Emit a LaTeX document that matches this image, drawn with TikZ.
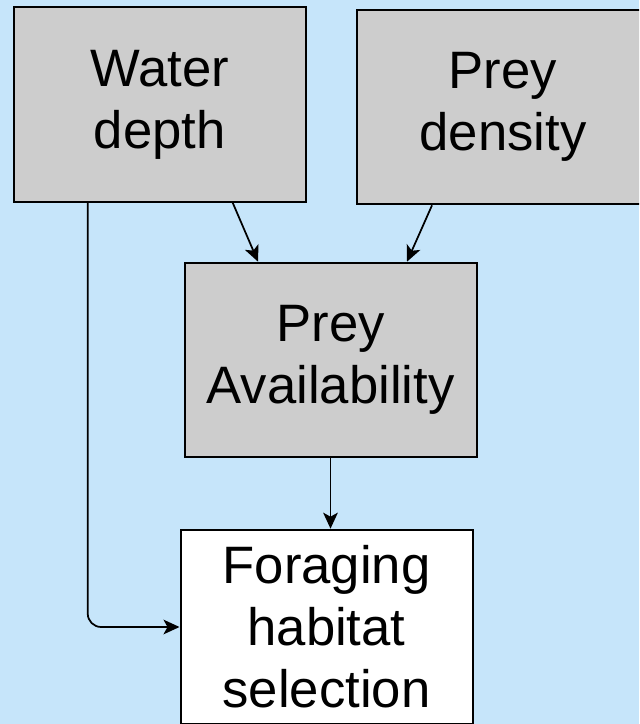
\documentclass[tikz,border=0pt]{standalone}
\usepackage{fontspec}
\setmainfont{Liberation Sans}
\usetikzlibrary{arrows.meta,calc,positioning}
\definecolor{bgblue}{RGB}{198,229,250}
\definecolor{boxgray}{RGB}{205,205,205}
\tikzset{
  factor/.style={rectangle,draw,line width=1.5pt,fill=boxgray,align=center,
    minimum width=219pt,minimum height=146pt,inner sep=0pt,
    font=\fontsize{39.5}{46.5}\selectfont},
  outcome/.style={factor,fill=white},
  link/.style={-{Stealth[length=12pt,width=11pt,inset=3pt]},line width=1.3pt},
  every node/.style={font=\small}
}

\begin{document}
\begin{tikzpicture}[x=0.75pt,y=-0.75pt]
\clip (0,0) rectangle (639,724);
\fill[bgblue] (0,0) rectangle (639,724);
\node[factor] (wd) at (159.75,104.5) {Water\\depth};
\node[factor] (pd) at (503,107) {Prey\\density};
\node[factor] (pa) at (330.5,360) {Prey\\Availability};
\node[outcome] (fhs) at (326.5,627) {Foraging\\habitat\\selection};
\draw[link] ($(wd.south)+(73,0)$) -- ($(pa.north)+(-72.5,0)$);
\draw[link] ($(pd.south)+(-71,0)$) -- ($(pa.north)+(76.5,0)$);
\draw[link] (pa.south) -- (pa.south |- fhs.north);
\draw[link,rounded corners=10pt] ($(wd.south)+(-72,0)$) |- (fhs.west);
\end{tikzpicture}
\end{document}
